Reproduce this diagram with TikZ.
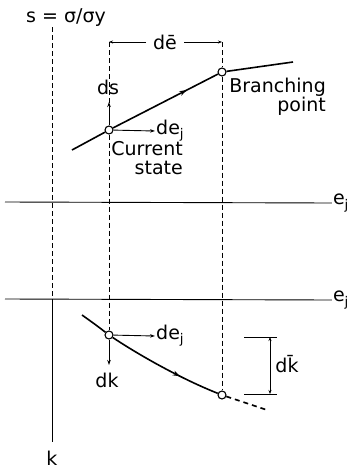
\documentclass[tikz,border=0pt]{standalone}
\usepackage{fontspec}
\setmainfont{DejaVu Sans}
\usetikzlibrary{arrows.meta, positioning, decorations.markings}
\tikzset{
    axis/.style={line width=0.9pt},
    guide/.style={line width=0.6pt, dash pattern=on 5pt off 3pt},
    branch/.style={line width=1.6pt},
    state/.style={circle, draw=black, fill=white, line width=1.1pt, inner sep=0pt, minimum size=8pt},
    incr/.style={line width=0.9pt, -{Stealth[length=5pt,width=3.5pt]}},
    dim/.style={line width=0.8pt, -{Stealth[length=4pt,width=3pt]}},
    lbl/.style={inner sep=1pt, font=\fontsize{19}{19}\selectfont},
    flow/.style={postaction={decorate, decoration={markings, mark=at position #1 with {\arrow{Stealth[length=7pt,width=5pt]}}}}}
}
\begin{document}
\begin{tikzpicture}[x=1pt, y=-1pt]
    \useasboundingbox (0,0) rectangle (351,472);

    % axes
    \node (s) [lbl] at (66,18) {s = σ/σy};
    \node (k) [lbl] at (52,458) {k};
    \node (ej1) [lbl] at (341,203) {e\textsubscript{j}};
    \node (ej2) [lbl] at (341,300) {e\textsubscript{j}};
    \coordinate (ka) at (52,27);
    \coordinate (kb) at (52,299);
    \coordinate (kc) at (52,442);
    \coordinate (ax1) at (5,202);
    \coordinate (ax2) at (5,299);
    \draw [axis] (ax1) -- (ej1.west);
    \draw [axis] (ax2) -- (ej2.west);
    \draw [guide] (ka) -- (kb);
    \draw [axis, line width=0.7pt] (kb) -- (kc);

    % upper branch: s against e_j
    \node (cur1) [state] at (109,130) {};
    \node (br1) [state] at (222,72) {};
    \coordinate (a1) at (72,150);
    \coordinate (b1) at (293,62);
    \draw [branch] (a1) -- (cur1);
    \draw [branch, flow=0.7] (cur1) -- (br1);
    \draw [branch] (br1) -- (b1);

    \node (ds) [lbl] at (108,87) {ds};
    \node (dej1) [lbl, anchor=west] at (155,131) {de\textsubscript{j}};
    \coordinate (dstip) at (109,102);
    \draw [incr] (cur1) -- (dstip);
    \draw [incr] (cur1) -- (dej1.west);
    \node (curtxt) [lbl, align=right, anchor=north east] at (184,140) {Current\\state};
    \node (brtxt) [lbl, align=right, anchor=north east] at (327,77) {Branching\\point};

    % lower branch: k against e_j
    \node (cur2) [state] at (109,335) {};
    \node (br2) [state] at (222,395) {};
    \coordinate (a2) at (82,315);
    \coordinate (b2) at (267,410);
    \draw [branch] (a2) .. controls (96,325) .. (cur2);
    \draw [branch, flow=0.65] (cur2) .. controls (142,357) and (184,380) .. (br2);
    \draw [branch, dash pattern=on 5pt off 4pt] (br2) -- (b2);

    \node (dej2) [lbl, anchor=west] at (155,336) {de\textsubscript{j}};
    \node (dk) [lbl] at (107,380) {dk};
    \coordinate (dktip) at (109,365);
    \draw [incr] (cur2) -- (dej2.west);
    \draw [incr] (cur2) -- (dktip);

    % guides to the branching states
    \coordinate (g1) at (109,42);
    \coordinate (g2) at (222,42);
    \draw [guide] (g1) -- (cur1);
    \draw [guide] (cur1) -- (cur2);
    \draw [guide] (g2) -- (br1);
    \draw [guide] (br1) -- (br2);

    % increments to branching
    \node (de) [lbl] at (165,42) {d\=e};
    \coordinate (dea) at (146,42);
    \coordinate (deb) at (184,42);
    \draw [dim] (dea) -- (g1);
    \draw [dim] (deb) -- (g2);

    \coordinate (t1) at (244,337);
    \coordinate (t2) at (244,394);
    \coordinate (t3) at (277,337);
    \coordinate (t4) at (277,394);
    \draw [axis, line width=0.8pt] (t1) -- (t3);
    \draw [axis, line width=0.8pt] (t2) -- (t4);
    \node (dk2) [lbl] at (287,364) {d\=k};
    \coordinate (dkm) at (270,365);
    \coordinate (dka) at (270,337);
    \coordinate (dkb) at (270,394);
    \draw [dim] (dkm) -- (dka);
    \draw [dim] (dkm) -- (dkb);
\end{tikzpicture}
\end{document}
